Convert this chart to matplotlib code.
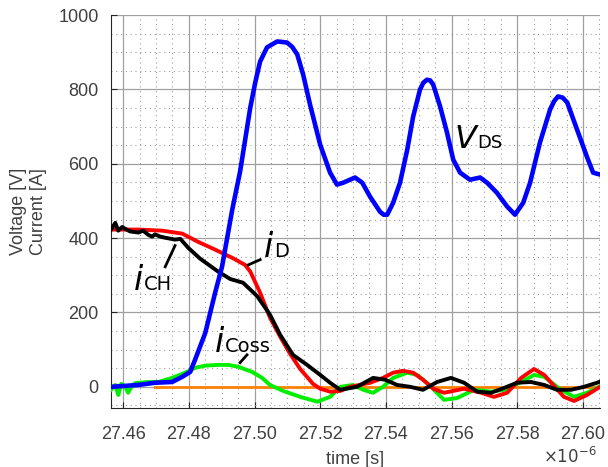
import numpy as np
import matplotlib.pyplot as plt
from matplotlib.ticker import MultipleLocator

# time in microseconds, values in V / A
t_vds = [27.4563, 27.4646, 27.4697, 27.4749, 27.4780, 27.4804, 27.4819, 27.4850, 27.4880, 27.4901,
         27.4932, 27.4956, 27.4987, 27.5002, 27.5017, 27.5038, 27.5069, 27.5099, 27.5115, 27.5130,
         27.5148, 27.5169, 27.5200, 27.5230, 27.5251, 27.5270, 27.5306, 27.5328, 27.5352, 27.5382,
         27.5393, 27.5404, 27.5422, 27.5443, 27.5465, 27.5483, 27.5504, 27.5514, 27.5525, 27.5535,
         27.5544, 27.5565, 27.5586, 27.5605, 27.5626, 27.5656, 27.5687, 27.5708, 27.5738, 27.5769,
         27.5793, 27.5818, 27.5839, 27.5869, 27.5900, 27.5912, 27.5924, 27.5938, 27.5952, 27.5982,
         27.6012, 27.6031, 27.6052]
vds = [0, 5, 11, 13, 27, 40, 73, 145, 253, 323,
       476, 579, 751, 818, 875, 913, 929, 926, 914, 894,
       840, 759, 651, 576, 544, 549, 563, 549, 511, 471,
       463, 463, 495, 549, 638, 727, 800, 818, 826, 824,
       813, 754, 684, 611, 576, 557, 563, 549, 522, 485,
       463, 495, 549, 657, 746, 768, 781, 778, 765, 692,
       619, 576, 571]

t_id = [27.4563, 27.4646, 27.4719, 27.4780, 27.4828, 27.4880, 27.4932, 27.4971, 27.4987, 27.5017,
        27.5047, 27.5078, 27.5108, 27.5139, 27.5178, 27.5200, 27.5230, 27.5261, 27.5291, 27.5352,
        27.5391, 27.5422, 27.5452, 27.5483, 27.5513, 27.5544, 27.5577, 27.5638, 27.5690, 27.5729,
        27.5769, 27.5812, 27.5851, 27.5882, 27.5942, 27.5973, 27.6012, 27.6052]
i_d = [423, 423, 420, 412, 390, 369, 347, 328, 310, 253,
       186, 135, 89, 48, 8, -5, -13, -11, 0, 11,
       24, 38, 43, 38, 19, -5, -16, -5, -16, -27,
       -16, 24, 48, 32, -27, -38, -22, 0]

t_ich = [27.4563, 27.4576, 27.4585, 27.4597, 27.4606, 27.4621, 27.4646, 27.4661, 27.4676, 27.4688,
         27.4697, 27.4713, 27.4728, 27.4758, 27.4774, 27.4798, 27.4834, 27.4889, 27.4926, 27.4965,
         27.5008, 27.5047, 27.5078, 27.5117, 27.5160, 27.5200, 27.5230, 27.5261, 27.5312, 27.5361,
         27.5398, 27.5434, 27.5474, 27.5513, 27.5556, 27.5598, 27.5638, 27.5678, 27.5720, 27.5760,
         27.5799, 27.5842, 27.5882, 27.5921, 27.5964, 27.6003, 27.6043, 27.6052]
i_ch = [423, 441, 420, 430, 425, 418, 415, 420, 409, 404,
        410, 404, 401, 396, 398, 374, 345, 310, 290, 280,
        244, 194, 140, 86, 59, 32, 11, -8, 0, 24,
        19, 5, 0, -8, 13, 24, 11, -13, -16, -3,
        11, 13, 5, -8, -8, 0, 11, 14]

t_coss = [27.4563, 27.4576, 27.4585, 27.4594, 27.4606, 27.4615, 27.4627, 27.4637, 27.4646, 27.4676,
          27.4707, 27.4749, 27.4789, 27.4819, 27.4850, 27.4889, 27.4920, 27.4950, 27.4993, 27.5023,
          27.5047, 27.5087, 27.5139, 27.5191, 27.5230, 27.5261, 27.5300, 27.5331, 27.5361, 27.5391,
          27.5422, 27.5465, 27.5495, 27.5525, 27.5577, 27.5617, 27.5668, 27.5720, 27.5760, 27.5812,
          27.5851, 27.5882, 27.5933, 27.5973, 27.6012, 27.6049]
i_coss = [-8, 5, -22, 8, 0, -16, 3, 10, 11, 13,
          13, 24, 38, 51, 57, 59, 59, 54, 40, 24,
          5, -11, -27, -40, -27, 0, 5, -8, -16, 0,
          24, 38, 32, 11, -35, -30, -8, -13, -8, 13,
          32, 27, -8, -27, -16, 0]

t_zero = [27.4697, 27.6052]
zero = [0, 0]

plt.rcParams['font.family'] = ['Liberation Sans', 'DejaVu Sans']
fig = plt.figure(figsize=(6.08, 4.67), dpi=100)
ax = fig.add_axes([0.1826, 0.1263, 0.8043, 0.8415])

ax.plot(t_zero, zero, color='#ff8000', lw=2.0, zorder=2)
ax.plot(t_coss, i_coss, color='#00ee00', lw=2.8, zorder=3)
ax.plot(t_id, i_d, color='#ff0000', lw=2.8, zorder=4)
ax.plot(t_ich, i_ch, color='black', lw=2.8, zorder=5)
ax.plot(t_vds, vds, color='#0000ff', lw=3.3, zorder=6)

ax.set_xlim(27.4563, 27.6052)
ax.set_ylim(-57, 1000)
ax.xaxis.set_minor_locator(MultipleLocator(0.005))
ax.yaxis.set_major_locator(MultipleLocator(200))
ax.yaxis.set_minor_locator(MultipleLocator(50))
ax.set_xticks(np.arange(27.46, 27.601, 0.02))
ax.set_xticklabels(['27.46', '27.48', '27.50', '27.52', '27.54', '27.56', '27.58', '27.60'])
ax.grid(which='major', color='#a0a0a0', lw=0.9)
ax.grid(which='minor', color='#969696', lw=0.75, ls=(0, (1, 3.6)))
ax.set_axisbelow(True)
for s in ['top', 'right']:
    ax.spines[s].set_visible(False)
for s in ['left', 'bottom']:
    ax.spines[s].set_color('#262626')
ax.tick_params(which='both', direction='in', colors='#262626', labelcolor='#404040', labelsize=13)
ax.tick_params(which='major', length=4, pad=9)
ax.tick_params(which='minor', length=0)
ax.tick_params(axis='x', pad=13)

ax.set_xlabel('time [s]', fontsize=13, color='#404040', labelpad=6)
ax.set_ylabel('Voltage [V]\nCurrent [A]', fontsize=13, color='#404040', labelpad=8)
ax.text(0.994, -0.14, r'$\times10^{-6}$', transform=ax.transAxes, ha='right', va='baseline',
        fontsize=12, color='#404040')

# curve labels
big = dict(fontsize=24, style='italic', family='DejaVu Sans', ha='right', va='baseline', zorder=8)
sub = dict(fontsize=14, family='DejaVu Sans', ha='left', va='baseline', zorder=8)
labels = [('i', 'CH', 27.4661, 261), ('i', 'D', 27.5057, 350), ('i', 'Coss', 27.4907, 94)]
for main, s, x, y in labels:
    ax.text(x, y, main, **big)
    ax.text(x + 0.0003, y, s, **sub)
ax.text(27.5675, 643, 'V', fontsize=23, style='italic', family='DejaVu Sans', ha='right', va='baseline')
ax.text(27.5678, 643, 'DS', fontsize=13, family='DejaVu Sans', ha='left', va='baseline')

# leader lines
ax.plot([27.4758, 27.4728], [380, 323], color='black', lw=2.0, zorder=7)
ax.plot([27.4981, 27.5017], [328, 342], color='black', lw=2.0, zorder=7)
ax.plot([27.4956, 27.4977], [65, 86], color='black', lw=2.0, zorder=7)

fig.savefig('out.png', dpi=100)
